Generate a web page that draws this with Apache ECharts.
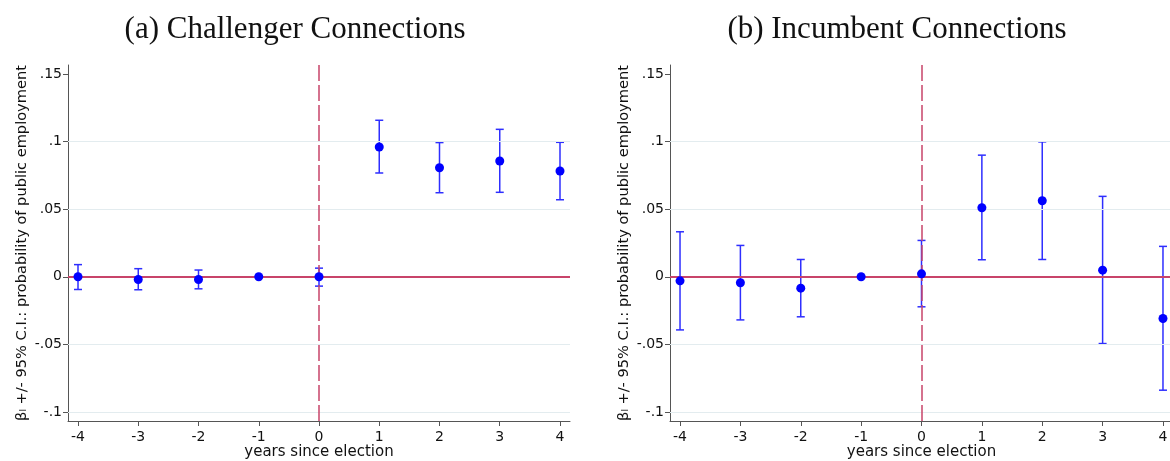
<!DOCTYPE html>
<html>
<head>
<meta charset="utf-8">
<script src="https://cdn.jsdelivr.net/npm/echarts@6/dist/echarts.min.js"></script>
<style>
  html, body { margin: 0; padding: 0; background: #fff; }
  #chart { width: 1170px; height: 461px; }
</style>
</head>
<body>
<div id="chart"></div>
<script>
// years relative to election (-1 is the omitted year)
var years = [-4, -3, -2, -1, 0, 1, 2, 3, 4];
var yTicks = [-0.1, -0.05, 0, 0.05, 0.1, 0.15];
var gridTicks = [-0.1, -0.05, 0.05, 0.1];

var panelTitles = ['(a) Challenger Connections', '(b) Incumbent Connections'];

// (a) challenger connections
var chalCoef = [0, -0.002, -0.002, 0, 0, 0.096, 0.0807, 0.0857, 0.0783];
var chalLo   = [-0.0094, -0.0096, -0.0089, null, -0.0069, 0.0768, 0.0622, 0.0625, 0.057];
var chalHi   = [0.009, 0.006, 0.005, null, 0.0064, 0.1158, 0.0993, 0.1091, 0.0995];

// (b) incumbent connections
var incCoef = [-0.003, -0.0044, -0.0084, 0, 0.0022, 0.0511, 0.0563, 0.0049, -0.0309];
var incLo   = [-0.0393, -0.0319, -0.0296, null, -0.0222, 0.0126, 0.0128, -0.0494, -0.0839];
var incHi   = [0.0333, 0.0232, 0.0128, null, 0.0269, 0.090, 0.0998, 0.0595, 0.0225];

var blue = '#0000ff';
var barBlue = '#2e2eff';
var red = '#c8446a';
var axisCol = '#555555';

function fmtY(v) {
  if (v === 0) return '0';
  return String(Math.round(v * 100) / 100).replace('0.', '.');
}

function xAxisFor(i) {
  return {
    type: 'value', gridIndex: i, min: -4.166, max: 4.166,
    name: 'years since election', nameLocation: 'middle', nameGap: 24, nameMoveOverlap: false,
    nameTextStyle: { fontFamily: 'DejaVu Sans', fontSize: 15, color: '#111' },
    axisLine: { show: true, onZero: false, lineStyle: { color: axisCol, width: 1 } },
    axisTick: { show: true, length: 5, customValues: years, lineStyle: { color: axisCol } },
    axisLabel: { customValues: years, margin: 9, fontFamily: 'DejaVu Sans', fontSize: 14, color: '#111',
      formatter: function (v) { return String(v); } },
    splitLine: { show: false }
  };
}

function yAxisFor(i) {
  return {
    type: 'value', gridIndex: i, min: -0.1067, max: 0.1567,
    name: 'β\u2097 +/- 95% C.I.: probability of public employment',
    nameLocation: 'middle', nameGap: 38, nameRotate: 90, nameMoveOverlap: false,
    nameTextStyle: { fontFamily: 'DejaVu Sans', fontSize: 14.6, color: '#111' },
    axisLine: { show: true, onZero: false, lineStyle: { color: axisCol, width: 1 } },
    axisTick: { show: true, length: 5, customValues: yTicks, lineStyle: { color: axisCol } },
    axisLabel: { customValues: yTicks, margin: 6, fontFamily: 'DejaVu Sans', fontSize: 14, color: '#111',
      formatter: fmtY },
    splitLine: { show: false }
  };
}

function errorBars(i, lo, hi) {
  var data = [];
  for (var k = 0; k < years.length; k++) {
    if (lo[k] !== null) data.push([years[k], lo[k], hi[k]]);
  }
  return {
    type: 'custom', xAxisIndex: i, yAxisIndex: i, z: 4, silent: true,
    data: data,
    renderItem: function (params, api) {
      var x = api.value(0);
      var p1 = api.coord([x, api.value(1)]);
      var p2 = api.coord([x, api.value(2)]);
      var cap = 4;
      var st = { stroke: barBlue, lineWidth: 1.5 };
      return {
        type: 'group',
        children: [
          { type: 'line', shape: { x1: p1[0], y1: p1[1], x2: p2[0], y2: p2[1] }, style: st },
          { type: 'line', shape: { x1: p1[0] - cap, y1: p1[1], x2: p1[0] + cap, y2: p1[1] }, style: st },
          { type: 'line', shape: { x1: p2[0] - cap, y1: p2[1], x2: p2[0] + cap, y2: p2[1] }, style: st }
        ]
      };
    }
  };
}

function refLines(i) {
  var gl = gridTicks.map(function (v) {
    return { yAxis: v, lineStyle: { color: '#e3ecef', width: 1, type: 'solid' } };
  });
  gl.push({ yAxis: 0, lineStyle: { color: red, width: 2, type: 'solid' } });
  gl.push({ xAxis: 0, lineStyle: { color: red, width: 1.5, type: [16, 4] } });
  return {
    type: 'line', xAxisIndex: i, yAxisIndex: i, data: [], z: 1, silent: true,
    markLine: { silent: true, symbol: 'none', label: { show: false }, animation: false, data: gl }
  };
}

function points(i, coef) {
  return {
    type: 'scatter', xAxisIndex: i, yAxisIndex: i, z: 5, silent: true,
    symbol: 'circle', symbolSize: 9,
    itemStyle: { color: blue, opacity: 1 },
    data: years.map(function (y, k) { return [y, coef[k]]; })
  };
}

var chart = echarts.init(document.getElementById('chart'), null, { renderer: 'canvas' });
chart.setOption({
  animation: false,
  backgroundColor: '#ffffff',
  title: [
    { text: panelTitles[0], left: 290, top: 9, textAlign: 'center',
      textStyle: { fontFamily: 'Liberation Serif', fontWeight: 'normal', fontSize: 31, color: '#111' } },
    { text: panelTitles[1], left: 892, top: 9, textAlign: 'center',
      textStyle: { fontFamily: 'Liberation Serif', fontWeight: 'normal', fontSize: 31, color: '#111' } }
  ],
  grid: [
    { left: 68, right: 600, top: 65, bottom: 40, containLabel: false, outerBoundsMode: 'none' },
    { left: 670, right: -3, top: 65, bottom: 40, containLabel: false, outerBoundsMode: 'none' }
  ],
  xAxis: [xAxisFor(0), xAxisFor(1)],
  yAxis: [yAxisFor(0), yAxisFor(1)],
  series: [
    refLines(0), errorBars(0, chalLo, chalHi), points(0, chalCoef),
    refLines(1), errorBars(1, incLo, incHi), points(1, incCoef)
  ]
});
</script>
</body>
</html>
